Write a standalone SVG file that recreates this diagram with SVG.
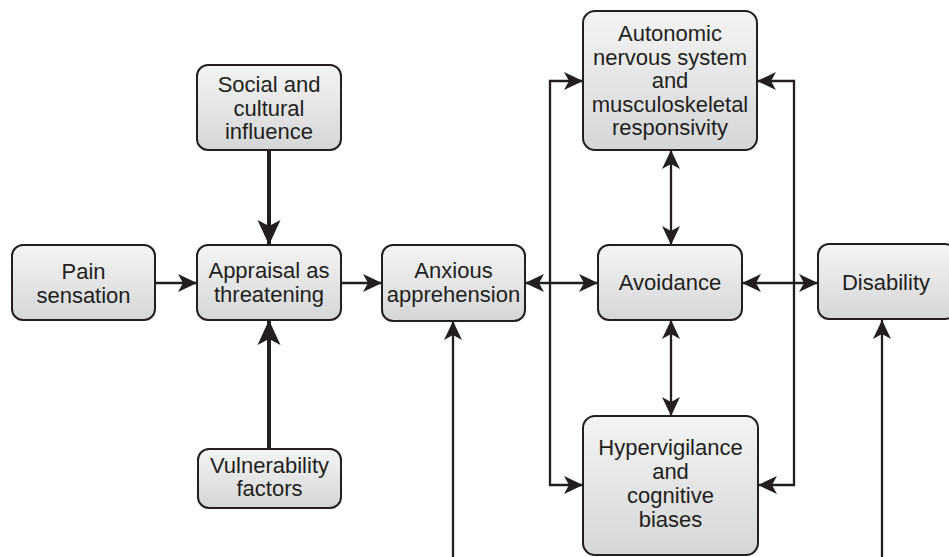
<svg xmlns="http://www.w3.org/2000/svg" width="949" height="557" viewBox="0 0 949 557">
<defs>
<linearGradient id="g" x1="0" y1="0" x2="0" y2="1">
<stop offset="0" stop-color="#f4f4f4"/>
<stop offset="1" stop-color="#d5d6d8"/>
</linearGradient>
<marker id="ah" markerUnits="userSpaceOnUse" markerWidth="30" markerHeight="30" viewBox="0 -15 30 30" refX="19" refY="0" orient="auto-start-reverse">
<path d="M0,-9 L19,0 L0,9 L5,0 Z" fill="#231f20"/>
</marker>
<marker id="ahb" markerUnits="userSpaceOnUse" markerWidth="30" markerHeight="30" viewBox="0 -15 30 30" refX="25" refY="0" orient="auto-start-reverse">
<path d="M0,-11.5 L25,0 L0,11.5 L6,0 Z" fill="#231f20"/>
</marker>
</defs>
<style>
.box{fill:url(#g);stroke:#231f20;stroke-width:2}
text{font-family:"Liberation Sans",Arial,sans-serif;font-size:22px;fill:#231f20;text-anchor:middle}
.c{fill:none;stroke:#231f20;stroke-width:2.3}
.t{fill:none;stroke:#231f20;stroke-width:4}
.s{marker-start:url(#ah)}
.e{marker-end:url(#ah)}
.eb{marker-end:url(#ahb)}
</style>
<g id="connectors">
<path class="c e" d="M155,283 H197"/>
<path class="c e" d="M341,283 H382"/>
<path class="t eb" d="M269,150 V245"/>
<path class="t eb" d="M269,449 V320"/>
<path class="c s e" d="M525,283 H598"/>
<path class="c s e" d="M742,283 H818"/>
<path class="c s e" d="M671,150 V245"/>
<path class="c s e" d="M671,320 V416"/>
<path class="c s e" d="M583,81 H550 V485 H583"/>
<path class="c s e" d="M757,81 H794 V485 H758"/>
<path class="c e" d="M453,557 V321"/>
<path class="c e" d="M882,557 V320"/>
</g>
<g id="pain">
<rect class="box" x="12" y="245" width="143" height="75" rx="11"/>
<text x="83.5" y="279">Pain</text>
<text x="83.5" y="303">sensation</text>
</g>
<g id="social">
<rect class="box" x="197" y="65" width="144" height="85" rx="11"/>
<text x="269" y="92">Social and</text>
<text x="269" y="115.5">cultural</text>
<text x="269" y="139">influence</text>
</g>
<g id="appraisal">
<rect class="box" x="197" y="245" width="144" height="75" rx="11"/>
<text x="269" y="278">Appraisal as</text>
<text x="269" y="302">threatening</text>
</g>
<g id="vulnerability">
<rect class="box" x="198" y="449" width="143" height="59" rx="11"/>
<text x="269.5" y="473">Vulnerability</text>
<text x="269.5" y="496">factors</text>
</g>
<g id="anxious">
<rect class="box" x="382" y="245" width="143" height="76" rx="11"/>
<text x="453.5" y="278">Anxious</text>
<text x="453.5" y="302">apprehension</text>
</g>
<g id="autonomic">
<rect class="box" x="583" y="11" width="174" height="139" rx="12"/>
<text x="670" y="41">Autonomic</text>
<text x="670" y="65">nervous system</text>
<text x="670" y="88">and</text>
<text x="670" y="112">musculoskeletal</text>
<text x="670" y="135">responsivity</text>
</g>
<g id="avoidance">
<rect class="box" x="598" y="245" width="144" height="75" rx="11"/>
<text x="670" y="290">Avoidance</text>
</g>
<g id="disability">
<rect class="box" x="818" y="244" width="138" height="75" rx="11"/>
<text x="886" y="290">Disability</text>
</g>
<g id="hypervigilance">
<rect class="box" x="583" y="416" width="175" height="139" rx="12"/>
<text x="670.5" y="455">Hypervigilance</text>
<text x="670.5" y="479">and</text>
<text x="670.5" y="503">cognitive</text>
<text x="670.5" y="527">biases</text>
</g>
</svg>
